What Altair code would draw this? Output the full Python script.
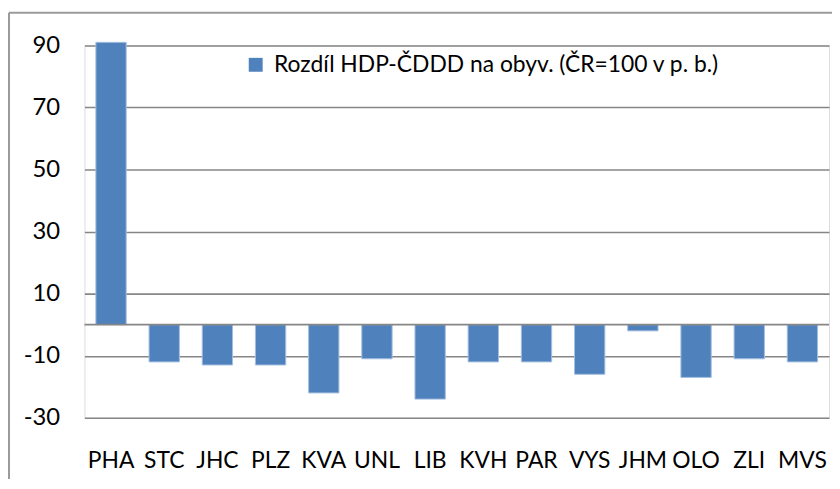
import altair as alt
import pandas as pd

regions = ["PHA", "STC", "JHC", "PLZ", "KVA", "UNL", "LIB", "KVH", "PAR", "VYS", "JHM", "OLO", "ZLI", "MVS"]
values = [91, -12, -13, -13, -22, -11, -24, -12, -12, -16, -2, -17, -11, -12]
y_ticks = [-30, -10, 10, 30, 50, 70, 90]
series_name = "Rozdíl HDP-ČDDD na obyv. (ČR=100 v p. b.)"

df = pd.DataFrame({"region": regions, "value": values, "series": [series_name] * len(regions)})

FONT = "Lato"
GRID = "#868686"

bars = alt.Chart(df).mark_bar(stroke="#A3BEE0", strokeWidth=1).encode(
    x=alt.X("region:N", sort=regions,
            scale=alt.Scale(paddingInner=0.43, paddingOuter=0.215),
            axis=alt.Axis(title=None, domain=False, ticks=False, labelAngle=0,
                          labelFontSize=23, labelFont=FONT, labelColor="black",
                          labelPadding=32)),
    y=alt.Y("value:Q", scale=alt.Scale(domain=[-30, 90], nice=False, zero=False),
            axis=alt.Axis(title=None, values=y_ticks, domain=False, ticks=False,
                          grid=True, gridColor=GRID, gridWidth=1.6,
                          labelExpr="toString(datum.value)",
                          labelFontSize=24, labelFont=FONT, labelColor="black",
                          labelPadding=25)),
    color=alt.Color("series:N", scale=alt.Scale(range=["#4F81BD"]),
                    legend=alt.Legend(title=None, orient="none", legendX=161, legendY=8,
                                      symbolType="square", symbolSize=196,
                                      symbolStrokeWidth=0, labelFontSize=23,
                                      labelFont=FONT, labelColor="black",
                                      labelLimit=600, labelOffset=7)),
)

zero = alt.Chart(pd.DataFrame({"z": [0]})).mark_rule(color=GRID, strokeWidth=1.6).encode(
    y="z:Q"
)

border_left = alt.Chart(pd.DataFrame({"a": [0]})).mark_rule(color="#9a9a9a", strokeWidth=2).encode(
    x=alt.value(-76), y=alt.value(-33), y2=alt.value(470)
)
border_top = alt.Chart(pd.DataFrame({"a": [0]})).mark_rule(color="#9a9a9a", strokeWidth=2).encode(
    x=alt.value(-76), x2=alt.value(760), y=alt.value(-33)
)

chart = alt.layer(bars, zero, border_left, border_top).properties(
    width=750, height=375,
    autosize=alt.AutoSizeParams(type="none"),
    padding={"left": 77, "top": 36, "right": 3, "bottom": 60},
).configure_view(stroke=None).configure(background="white")

chart.save("out.html", embed_options={"renderer": "svg", "actions": False})
